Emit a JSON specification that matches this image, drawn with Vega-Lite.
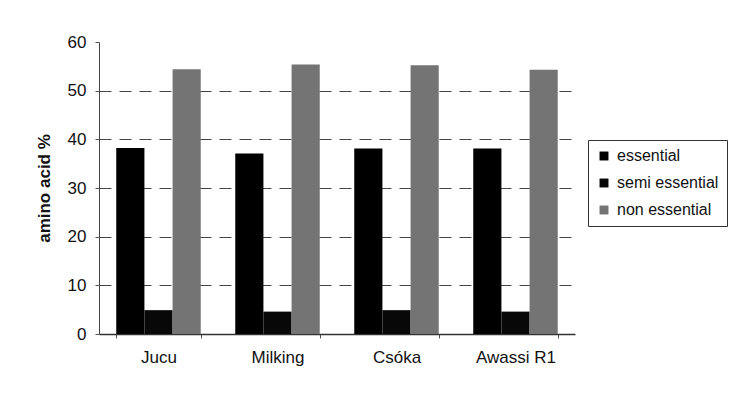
{
  "$schema": "https://vega.github.io/schema/vega-lite/v6.json",
  "autosize": {"type": "none"},
  "width": 476,
  "height": 292,
  "padding": {"left": 99, "top": 42, "right": 157, "bottom": 61},
  "background": "white",
  "config": {
    "view": {"stroke": null},
    "font": "Liberation Sans",
    "axis": {"labelFont": "Liberation Sans", "titleFont": "Liberation Sans"}
  },
  "data": {
    "values": [
      {"breed": "Jucu", "group": "essential", "value": 38.2},
      {"breed": "Jucu", "group": "semi essential", "value": 4.9},
      {"breed": "Jucu", "group": "non essential", "value": 54.4},
      {"breed": "Milking", "group": "essential", "value": 37.1},
      {"breed": "Milking", "group": "semi essential", "value": 4.6},
      {"breed": "Milking", "group": "non essential", "value": 55.4},
      {"breed": "Csóka", "group": "essential", "value": 38.1},
      {"breed": "Csóka", "group": "semi essential", "value": 4.9},
      {"breed": "Csóka", "group": "non essential", "value": 55.2},
      {"breed": "Awassi R1", "group": "essential", "value": 38.1},
      {"breed": "Awassi R1", "group": "semi essential", "value": 4.6},
      {"breed": "Awassi R1", "group": "non essential", "value": 54.3}
    ]
  },
  "mark": {"type": "bar"},
  "encoding": {
    "x": {
      "field": "breed",
      "type": "nominal",
      "sort": ["Jucu", "Milking", "Csóka", "Awassi R1"],
      "scale": {"paddingInner": 0.29, "paddingOuter": 0.145},
      "axis": {
        "title": null,
        "labelAngle": 0,
        "labelFontSize": 17,
        "labelColor": "#111",
        "labelPadding": 11,
        "tickBand": "extent",
        "tickSize": 4,
        "tickColor": "#555",
        "domainColor": "#333",
        "domainWidth": 1.5
      }
    },
    "xOffset": {
      "field": "group",
      "type": "nominal",
      "sort": ["essential", "semi essential", "non essential"],
      "scale": {"paddingInner": 0, "paddingOuter": 0}
    },
    "y": {
      "field": "value",
      "type": "quantitative",
      "scale": {"domain": [0, 60], "nice": false},
      "axis": {
        "title": "amino acid %",
        "titleFontSize": 17,
        "titleFontWeight": "bold",
        "titleColor": "#111",
        "titlePadding": 14,
        "values": [0, 10, 20, 30, 40, 50, 60],
        "labelFontSize": 17,
        "labelColor": "#111",
        "labelPadding": 9,
        "tickSize": 4,
        "tickColor": "#555",
        "domainColor": "#444",
        "grid": true,
        "gridColor": "#444",
        "gridDash": [12, 8],
        "gridWidth": 1,
        "gridOpacity": {"condition": {"test": "datum.value === 60 || datum.value === 0", "value": 0}, "value": 1}
      }
    },
    "color": {
      "field": "group",
      "type": "nominal",
      "scale": {
        "domain": ["essential", "semi essential", "non essential"],
        "range": ["#000000", "#080808", "#747474"]
      },
      "legend": {
        "title": null,
        "orient": "none",
        "legendX": 489,
        "legendY": 98,
        "symbolType": "square",
        "symbolSize": 80,
        "symbolStrokeWidth": 0,
        "labelFontSize": 16,
        "labelColor": "#111",
        "labelOffset": 5,
        "rowPadding": 11,
        "padding": 8,
        "strokeColor": "#333",
        "fillColor": "white"
      }
    }
  }
}
